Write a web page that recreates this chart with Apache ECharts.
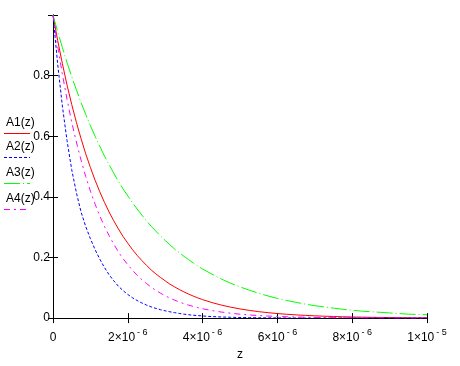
<!DOCTYPE html>
<html>
<head>
<meta charset="utf-8">
<script src="https://cdn.jsdelivr.net/npm/echarts@6/dist/echarts.min.js"></script>
<style>html,body{margin:0;padding:0;background:#fff;}#c{width:460px;height:366px;}</style>
</head>
<body>
<div id="c"></div>
<script>
// z in units of 1e-6
var zMicro = [0,0.125,0.25,0.375,0.5,0.625,0.75,0.875,1,1.125,1.25,1.375,1.5,1.625,1.75,1.875,2,2.125,2.25,2.375,2.5,2.625,2.75,2.875,3,3.125,3.25,3.375,3.5,3.625,3.75,3.875,4,
  4.25,4.5,4.75,5,5.25,5.5,5.75,6,6.25,6.5,6.75,7,7.25,7.5,7.75,8,8.25,8.5,8.75,9,9.25,9.5,9.75,10];
var xTickLabels = ['0','2×10','4×10','6×10','8×10','1×10'];
var yTickLabels = ['0','0.2','0.4','0.6','0.8'];
var seriesNames = ['A1(z)','A2(z)','A3(z)','A4(z)'];
var A1 = [1,0.916,0.840,0.769,0.705,0.646,0.592,0.542,0.497,0.455,0.417,0.382,0.350,0.321,0.294,0.269,0.247,0.226,0.207,0.190,0.174,0.159,0.146,0.134,0.123,0.112,0.103,0.0945,0.0865,0.0793,0.0726,0.0666,0.0610,
  0.0512,0.0430,0.0361,0.0303,0.0254,0.0213,0.0179,0.0150,0.0126,0.0106,0.0089,0.0075,0.0063,0.0053,0.0044,0.0037,0.0031,0.0026,0.0022,0.0018,0.0015,0.0013,0.0011,0.0009];
var A2 = [1,0.838,0.700,0.586,0.490,0.414,0.350,0.302,0.262,0.226,0.195,0.167,0.143,0.123,0.105,0.0905,0.078,0.067,0.058,0.050,0.043,0.037,0.032,0.0277,0.024,0.0208,0.018,0.0153,0.013,0.0111,0.0095,0.0082,0.007,
  0.005,0.0037,0.0027,0.002,0.0015,0.0011,0.0008,0.0006,0.0004,0.0003,0.0002,0.0002,0.0001,0.0001,0.0001,0.0001,0,0,0,0,0,0,0,0];
var A3 = [1,0.945,0.893,0.843,0.797,0.753,0.711,0.672,0.635,0.600,0.567,0.535,0.506,0.478,0.451,0.426,0.403,0.381,0.360,0.340,0.321,0.303,0.287,0.271,0.256,0.242,0.228,0.216,0.204,0.193,0.182,0.172,0.162,
  0.145,0.129,0.115,0.103,0.092,0.082,0.073,0.065,0.058,0.052,0.046,0.041,0.037,0.033,0.029,0.026,0.023,0.021,0.019,0.017,0.015,0.013,0.012,0.011];
var A4 = [1,0.897,0.805,0.722,0.647,0.581,0.521,0.467,0.419,0.376,0.337,0.303,0.272,0.244,0.218,0.196,0.176,0.158,0.141,0.127,0.114,0.102,0.0915,0.0821,0.0736,0.0661,0.0593,0.0532,0.0477,0.0428,0.0384,0.0344,0.0309,
  0.0248,0.0200,0.0161,0.0129,0.0104,0.0084,0.0067,0.0054,0.0044,0.0035,0.0028,0.0023,0.0018,0.0015,0.0012,0.0010,0.0008,0.0006,0.0005,0.0004,0.0003,0.0003,0.0002,0.0002];

var FONT = "'Liberation Sans', Arial, sans-serif";
var colors = ['#ff0000','#0000ff','#00ff00','#ff00ff'];
var dashes = ['solid',[3,2],[16,3,1,3],[6,4,2,4]];
var values = [A1,A2,A3,A4];

function pairs(arr){ return zMicro.map(function(z,i){ return [z, arr[i]]; }); }

var chart = echarts.init(document.getElementById('c'), null, {renderer:'canvas'});
var axisLine = {show:true, lineStyle:{color:'#000', width:1}};
var tickIn = {show:true, inside:true, length:5, lineStyle:{color:'#000', width:1}};

var series = values.map(function(arr,i){
  return {
    name: seriesNames[i], type:'line', data: pairs(arr), showSymbol:false, symbol:'none',
    smooth:false, xAxisIndex:0, yAxisIndex:0,
    lineStyle:{color:colors[i], width:1, type:dashes[i]}, itemStyle:{color:colors[i]},
    animation:false, z: 3
  };
});

var legendGraphics = [];
var legendTop = [117, 141, 167, 193];
seriesNames.forEach(function(n,i){
  legendGraphics.push({type:'text', left:6, top:legendTop[i], style:{text:n, font:'12px '+FONT, fill:'#000'}});
  legendGraphics.push({type:'line', shape:{x1:4, y1:legendTop[i]+16.5, x2:30, y2:legendTop[i]+16.5},
    style:{stroke:colors[i], lineWidth:1, lineDash: dashes[i]==='solid'?null:dashes[i]}});
});

chart.setOption({
  animation:false,
  backgroundColor:'#fff',
  textStyle:{fontFamily:FONT},
  grid:{left:53, right:33, top:15, bottom:47, show:false},
  xAxis:[{
    type:'value', min:0, max:10, interval:2, position:'bottom',
    axisLine:axisLine, axisTick:tickIn, splitLine:{show:false},
    name:'z', nameLocation:'middle', nameGap:30,
    nameTextStyle:{color:'#000', fontSize:12, fontFamily:FONT},
    axisLabel:{
      show:true, margin:10, showMinLabel:true, showMaxLabel:true, color:'#000',
      formatter:function(v){
        var k = Math.round(v/2);
        if (k===0) return '{b|'+xTickLabels[0]+'}';
        var sup = (k===5) ? '- 5' : '- 6';
        return '{b|'+xTickLabels[k]+'}{s|'+sup+'}';
      },
      rich:{
        b:{fontSize:12, lineHeight:16, verticalAlign:'bottom', color:'#000', fontFamily:FONT},
        s:{fontSize:9, lineHeight:9, verticalAlign:'top', color:'#000', fontFamily:FONT, padding:[0,0,0,2]}
      }
    }
  },{
    type:'value', min:0, max:10, interval:2, position:'top',
    axisLine:axisLine, axisTick:tickIn, splitLine:{show:false}, axisLabel:{show:false}
  }],
  yAxis:[{
    type:'value', min:0, max:1, interval:0.2, position:'left',
    axisLine:axisLine, axisTick:tickIn, splitLine:{show:false},
    axisLabel:{show:true, margin:3, color:'#000', fontSize:12, fontFamily:FONT,
      formatter:function(v){ var k=Math.round(v*5); return k<yTickLabels.length ? yTickLabels[k] : ''; }}
  },{
    type:'value', min:0, max:1, interval:0.2, position:'right',
    axisLine:axisLine, axisTick:tickIn, splitLine:{show:false}, axisLabel:{show:false}
  }],
  series: series,
  graphic: legendGraphics
});
</script>
</body>
</html>
